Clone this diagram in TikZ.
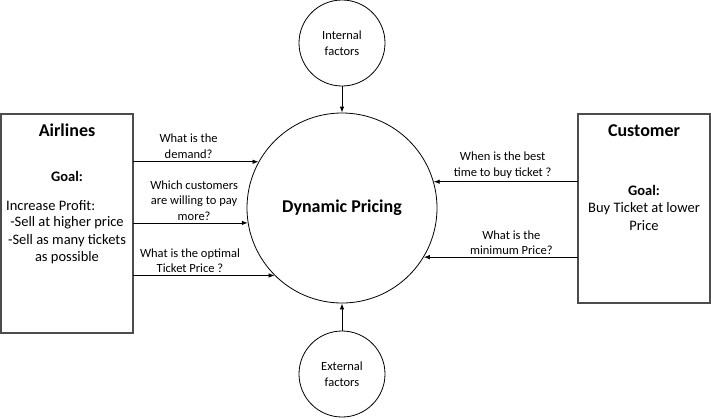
\documentclass[tikz,border=0pt]{standalone}
\usepackage{fontspec}
\setmainfont{Carlito}
\usetikzlibrary{arrows.meta}

\begin{document}
\begin{tikzpicture}
     [x=1pt,y=-1pt,line cap=round,
      % Styles
        party box/.style={draw=black!70,line width=1.2pt,inner sep=0pt},
        factor/.style={draw,circle,line width=0.8pt,minimum size=86pt,inner sep=0pt,
                       align=center,font=\fontsize{12.5}{15.5}\selectfont},
        flow/.style={line width=0.8pt,-{Latex[length=6pt,width=4.5pt]}},
        question/.style={align=center,inner sep=1pt,font=\fontsize{12.5}{15.5}\selectfont},
        title text/.style={font=\fontsize{18}{20}\selectfont\bfseries},
        body text/.style={align=center,inner sep=0pt,font=\fontsize{14.5}{17.5}\selectfont}]
    \useasboundingbox (0,0) rectangle (711,418);
    % centre and factors
    \node[draw,circle,line width=0.8pt,minimum size=190pt,inner sep=0pt,
          font=\fontsize{18}{20}\selectfont\bfseries] (dp) at (342,208) {Dynamic Pricing};
    \node[factor] (int) at (342,43) {Internal\\factors};
    \node[factor] (ext) at (342,374) {External\\factors};
    \draw[flow] (int.south) -- (dp.north);
    \draw[flow] (ext.north) -- (dp.south);
    % airlines side
    \node[party box,minimum width=132pt,minimum height=219pt] (air) at (67,223.5) {};
    \node[title text] (airtitle) at (67,130) {Airlines};
    \node[body text,font=\fontsize{14.5}{17.5}\selectfont\bfseries] (airgoal) at (67,176) {Goal:};
    \node[body text,anchor=west] (airprofit) at (6,206) {Increase Profit:};
    \node[body text] (airlist) at (67,240.5) {-Sell at higher price\\-Sell as many tickets\\as possible};
    \draw[flow] (air.east |- dp.151) -- node[question,above=2pt,pos=0.44] {What is the\\demand?} (dp.151);
    \draw[flow] (air.east |- dp.189) -- node[question,above=1pt,pos=0.53] {Which customers\\are willing to pay\\more?} (dp.189);
    \draw[flow] (air.east |- dp.225) -- node[question,above=1pt,pos=0.40] {What is the optimal\\Ticket Price ?} (dp.225);
    % customer side
    \node[party box,minimum width=132pt,minimum height=189pt] (cust) at (644,208.5) {};
    \node[title text] (custtitle) at (644,131) {Customer};
    \node[body text] (custgoal) at (644,207.5) {\textbf{Goal:}\\Buy Ticket at lower\\Price};
    \draw[flow] (cust.west |- dp.16.5) -- node[question,above=2pt,pos=0.52] {When is the best\\time to buy ticket ?} (dp.16.5);
    \draw[flow] (cust.west |- dp.-31.8) -- node[question,above=1pt,pos=0.43] {What is the\\minimum Price?} (dp.-31.8);
  \end{tikzpicture}
\end{document}
